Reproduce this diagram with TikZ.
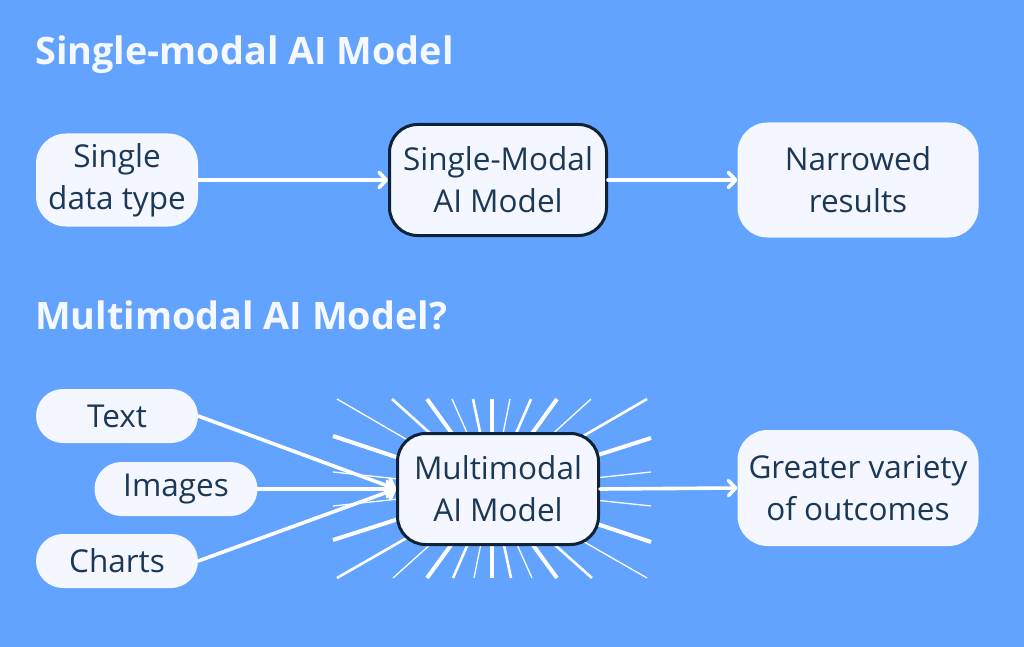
\documentclass[tikz,border=0pt]{standalone}
\usepackage{fontspec}
\setmainfont{Open Sans}
\usetikzlibrary{arrows.meta}
\definecolor{bg}{HTML}{62A3FF}
\definecolor{boxfill}{HTML}{F4F7FF}
\definecolor{ink}{HTML}{1C3857}
\definecolor{edge}{HTML}{0E2238}
\definecolor{titlecol}{HTML}{F5F8FF}
\begin{document}
\begin{tikzpicture}[x=1pt,y=-1pt,
  box/.style={fill=boxfill, text=ink, align=center, inner sep=0pt,
    font=\fontsize{31.5}{42}\selectfont},
  core/.style={box, draw=edge, line width=3pt},
  title/.style={anchor=base west, inner sep=0pt, text=titlecol,
    font=\fontsize{37.8}{44}\selectfont\bfseries},
  conn/.style={draw=white, line width=3.6pt, line cap=round,
    -{Straight Barb[length=7pt,width=15pt,line cap=round,line join=round]}},
  ray/.style={draw=white, line width=#1},
]
\fill[bg] (0,0) rectangle (1024,647);
\useasboundingbox (0,0) rectangle (1024,647);

% titles
\node[title] (t1) at (35,65) {Single-modal AI Model};
\node[title] (t2) at (35,329) {Multimodal AI Model?};

% row 1
\node[box, rounded corners=30pt, minimum width=162pt, minimum height=93pt] (sd) at (117,180) {Single\\data type};
\node[core, rounded corners=28pt, minimum width=217pt, minimum height=111pt] (sm) at (498,180) {Single-Modal\\AI Model};
\node[box, rounded corners=30pt, minimum width=241pt, minimum height=115pt] (nr) at (858,180) {Narrowed\\results};
\draw[conn] (sd.east) -- (sm.west);
\draw[conn] (sm.east) -- (nr.west);

% row 2 rays
\coordinate (rc) at (492,489);
\foreach \dx/\w in {-155/1.3, -100/2.6, -65/4, -40/1.3, -19/2.6, 0/4, 18/1.3, 39/2.6, 65/4, 99/1.3, 155/2.6}{
  \draw[ray=\w] (rc) -- ++(\dx,-90);
  \draw[ray=\w] (rc) -- ++(-\dx,89);
}
\foreach \dy/\w in {-53/4, -17/1.3, 17/1.3, 51/4}{
  \draw[ray=\w] (rc) -- ++(-159,\dy);
  \draw[ray=\w] (rc) -- ++(159,-\dy);
}

\node[box, rounded corners=27pt, minimum width=162pt, minimum height=54pt] (tx) at (117,416) {Text};
\node[box, rounded corners=27pt, minimum width=163pt, minimum height=54pt] (im) at (176,489) {Images};
\node[box, rounded corners=27pt, minimum width=162pt, minimum height=54pt] (ch) at (117,561) {Charts};
\node[core, rounded corners=28pt, minimum width=201pt, minimum height=111pt] (mm) at (498,489) {Multimodal\\AI Model};
\node[box, rounded corners=30pt, minimum width=241pt, minimum height=116pt] (gv) at (858,488) {Greater variety\\of outcomes};

\draw[conn] (tx.east) -- (mm.west);
\draw[conn] (ch.east) -- (mm.west);
\draw[conn] (im.east) -- (mm.west);
\draw[conn] (mm.east) -- (gv.west);
\end{tikzpicture}
\end{document}
